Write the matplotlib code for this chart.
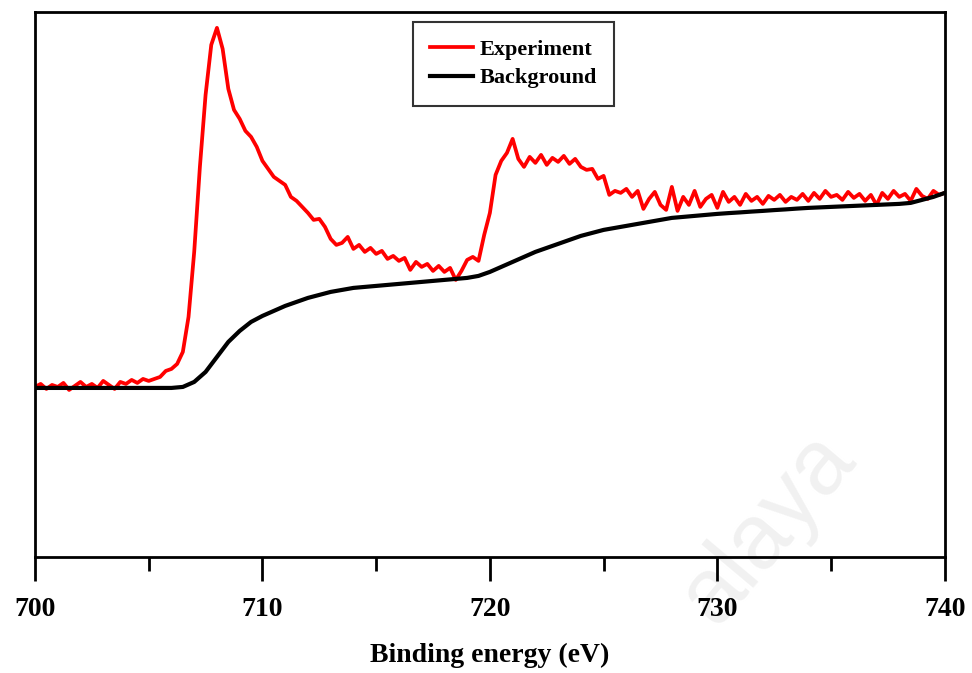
import numpy as np
import matplotlib
matplotlib.use("Agg")
import matplotlib.pyplot as plt

plt.rcParams['font.family'] = ['Liberation Serif', 'DejaVu Serif']
plt.rcParams['font.weight'] = 'bold'

# experiment: 700 -> 740 eV, every 0.25 eV (intensity, a.u.)
energia_exp = np.arange(700, 740.01, 0.25)
experimento = [
    170, 173, 168, 172, 170, 174, 167, 171,   # 700
    175, 170, 173, 169, 176, 172, 168, 175,   # 702
    173, 177, 174, 178, 176, 178, 180, 186,   # 704
    188, 193, 205, 240, 305, 390, 462, 512,   # 706
    529, 508, 468, 447, 438, 426, 420, 410,   # 708
    396, 388, 380, 376, 372, 360, 356, 350,   # 710
    344, 337, 338, 330, 318, 312, 314, 320,   # 712
    308, 312, 305, 309, 303, 306, 298, 301,   # 714
    296, 299, 287, 295, 290, 293, 286, 291,   # 716
    285, 289, 277, 286, 297, 300, 296, 322,   # 718
    344, 382, 396, 404, 418, 398, 390, 400,   # 720
    394, 402, 392, 399, 395, 401, 393, 398,   # 722
    390, 387, 388, 378, 381, 362, 366, 364,   # 724
    368, 360, 366, 348, 358, 365, 352, 347,   # 726
    370, 346, 360, 352, 366, 350, 358, 362,   # 728
    349, 365, 355, 360, 352, 363, 356, 360,   # 730
    353, 361, 357, 362, 355, 360, 357, 363,   # 732
    356, 364, 358, 366, 360, 362, 357, 365,   # 734
    359, 363, 356, 362, 352, 364, 358, 366,   # 736
    360, 363, 356, 368, 361, 358, 366, 362,   # 738
    364,
]

# background: every 0.5 eV
energia_bg = np.arange(700, 740.01, 0.5)
fondo = [
    169, 169, 169, 169,
    169, 169, 169, 169,
    169, 169, 169, 169,
    169, 170, 175, 185,
    200, 215, 226, 235,
    241, 246, 251, 255,
    259, 262, 265, 267,
    269, 270, 271, 272,
    273, 274, 275, 276,
    277, 278, 279, 281,
    285, 290, 295, 300,
    305, 309, 313, 317,
    321, 324, 327, 329,
    331, 333, 335, 337,
    339, 340, 341, 342,
    343, 343.8, 344.5, 345.3,
    346, 346.8, 347.5, 348.3,
    349, 349.5, 350, 350.5,
    351, 351.5, 352, 352.5,
    353, 354, 357, 360,
    364,
]

fig = plt.figure(figsize=(9.72, 6.73), dpi=100)
ax = fig.add_axes([0.036, 0.1724, 0.936, 0.81])
ax.patch.set_alpha(0)  # para que se vea la marca de agua detras

ax.plot(energia_exp, experimento, color='#ff0000', lw=2.7, label='Experiment')
ax.plot(energia_bg, fondo, color='black', lw=3, label='Background')

ax.set_xlim(700, 740)
ax.set_ylim(0, 545)
ax.set_xticks([700, 710, 720, 730, 740])
ax.set_xticks([705, 715, 725, 735], minor=True)
ax.set_yticks([])
ax.tick_params(axis='x', which='major', direction='out', length=17, width=2, labelsize=20, pad=12)
ax.tick_params(axis='x', which='minor', direction='out', length=10, width=2)
for s in ax.spines.values():
    s.set_linewidth(2)

ax.set_xlabel('Binding energy (eV)', fontsize=20, fontweight='bold', labelpad=15)

leg = ax.legend(loc='upper left', bbox_to_anchor=(0.415, 0.982), fontsize=16,
                frameon=True, fancybox=False, edgecolor='black', handlelength=1.9,
                handletextpad=0.3, borderpad=0.8, labelspacing=0.35, borderaxespad=0)
leg.get_frame().set_linewidth(1.5)

# marca de agua (muy tenue)
fig.text(0.79, 0.215, 'alaya', rotation=50, fontsize=66, color='#f1f1f1',
         fontweight='normal', family='Liberation Sans', ha='center', va='center', zorder=-1)

fig.savefig('out.png', dpi=100)
